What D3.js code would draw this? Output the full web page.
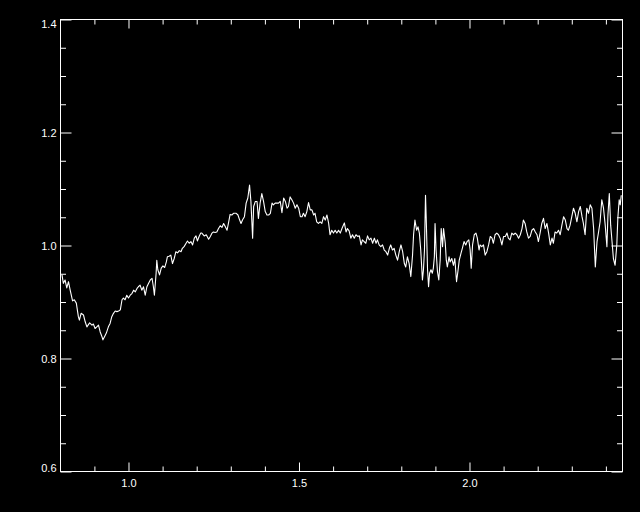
<!DOCTYPE html>
<html>
<head>
<meta charset="utf-8">
<script src="https://cdn.jsdelivr.net/npm/d3@7"></script>
<style>
  html, body { margin: 0; padding: 0; background: #000; }
  svg { display: block; }
</style>
</head>
<body>
<div id="chart"></div>
<script>
// wavelength (x) and normalised flux (y)
const wave = [
  0.805, 0.809, 0.814, 0.819, 0.824, 0.829, 0.836, 0.841, 0.847, 0.853,
  0.856, 0.861, 0.868, 0.873, 0.878, 0.886, 0.893, 0.897, 0.902, 0.907,
  0.912, 0.917, 0.922, 0.925, 0.930, 0.935, 0.941, 0.946, 0.951, 0.956,
  0.961, 0.966, 0.971, 0.976, 0.981, 0.985, 0.990, 0.995, 1.000, 1.005,
  1.010, 1.015, 1.020, 1.025, 1.029, 1.034, 1.039, 1.044, 1.049, 1.054,
  1.059, 1.064, 1.069, 1.073, 1.076, 1.081, 1.083, 1.086, 1.091, 1.096,
  1.101, 1.106, 1.111, 1.114, 1.119, 1.124, 1.129, 1.134, 1.139, 1.144,
  1.149, 1.154, 1.158, 1.163, 1.168, 1.173, 1.178, 1.183, 1.188, 1.193,
  1.198, 1.202, 1.207, 1.212,
  1.215, 1.222, 1.228, 1.235, 1.240, 1.245, 1.249, 1.254, 1.259, 1.264,
  1.269, 1.274, 1.279, 1.284, 1.289, 1.293, 1.298, 1.303, 1.308, 1.316,
  1.321, 1.326, 1.330, 1.335, 1.340, 1.345, 1.350, 1.355, 1.359, 1.364,
  1.367, 1.372, 1.377, 1.381, 1.386, 1.391, 1.396, 1.401, 1.406, 1.411,
  1.416, 1.421, 1.425, 1.430, 1.435, 1.440, 1.445, 1.450, 1.455, 1.460,
  1.465, 1.469, 1.474, 1.479, 1.484, 1.489, 1.494, 1.499, 1.504, 1.509,
  1.513, 1.518, 1.523, 1.528, 1.533, 1.538, 1.543, 1.547, 1.552, 1.557,
  1.562, 1.567, 1.572, 1.577, 1.582, 1.587, 1.591, 1.596, 1.601, 1.606,
  1.611, 1.616, 1.621,
  1.626, 1.633, 1.638, 1.642, 1.647, 1.652, 1.657, 1.662, 1.667, 1.672,
  1.677, 1.682, 1.686, 1.691, 1.696, 1.701, 1.706, 1.711, 1.716, 1.721,
  1.726, 1.730, 1.735, 1.740, 1.745, 1.750, 1.755, 1.760, 1.765, 1.769,
  1.774, 1.779, 1.784, 1.789, 1.794, 1.799, 1.804, 1.809, 1.813, 1.818,
  1.823, 1.828, 1.833, 1.836, 1.840, 1.845, 1.849, 1.853, 1.857, 1.862,
  1.865, 1.868, 1.871, 1.873, 1.877, 1.880, 1.883, 1.887, 1.891, 1.894,
  1.897, 1.899, 1.902, 1.906, 1.910, 1.914, 1.917, 1.921, 1.924, 1.929,
  1.932, 1.935, 1.940, 1.943, 1.948, 1.953, 1.957, 1.962, 1.966, 1.970,
  1.975, 1.979, 1.984, 1.989, 1.993, 1.998, 2.002, 2.005, 2.009, 2.014,
  2.019, 2.023, 2.028, 2.031, 2.036,
  2.041, 2.046, 2.051, 2.056, 2.061, 2.066, 2.070, 2.075, 2.080, 2.085,
  2.090, 2.095, 2.100, 2.105, 2.110, 2.114, 2.119, 2.124, 2.129, 2.134,
  2.139, 2.144, 2.149, 2.154, 2.158, 2.163, 2.168, 2.173, 2.178, 2.183,
  2.188, 2.193, 2.198, 2.202, 2.207, 2.212, 2.217, 2.222, 2.227, 2.232,
  2.237, 2.242, 2.246, 2.251, 2.256, 2.261, 2.266, 2.271, 2.276, 2.281,
  2.286, 2.290, 2.295, 2.300, 2.305, 2.310, 2.315, 2.320, 2.325, 2.330,
  2.334, 2.339, 2.344, 2.349, 2.354, 2.359, 2.364, 2.369, 2.374, 2.378,
  2.383, 2.388, 2.393, 2.398, 2.403, 2.406, 2.410, 2.414, 2.418, 2.422,
  2.427, 2.432, 2.435, 2.439, 2.442, 2.445
];

const flux = [
  0.948, 0.933, 0.939, 0.925, 0.936, 0.921, 0.902, 0.904, 0.898, 0.874,
  0.868, 0.880, 0.877, 0.865, 0.856, 0.863, 0.859, 0.861, 0.853, 0.856,
  0.859, 0.847, 0.839, 0.833, 0.839, 0.845, 0.856, 0.862, 0.874, 0.880,
  0.884, 0.883, 0.884, 0.886, 0.904, 0.907, 0.904, 0.912, 0.907, 0.912,
  0.915, 0.921, 0.918, 0.924, 0.927, 0.930, 0.921, 0.927, 0.912, 0.927,
  0.933, 0.939, 0.942, 0.927, 0.912, 0.951, 0.974, 0.957, 0.948, 0.960,
  0.964, 0.961, 0.971, 0.980, 0.981, 0.983, 0.968, 0.977, 0.989, 0.987,
  0.991, 0.989, 0.995, 0.998, 1.003, 1.008, 1.004, 1.007, 1.001, 1.013,
  1.017, 1.008, 1.016, 1.022,
  1.022, 1.017, 1.019, 1.011, 1.016, 1.022, 1.024, 1.023, 1.024, 1.030,
  1.035, 1.032, 1.039, 1.033, 1.027, 1.039, 1.055, 1.054, 1.057, 1.057,
  1.054, 1.045, 1.039, 1.046, 1.051, 1.075, 1.084, 1.107, 1.078, 1.013,
  1.069, 1.078, 1.078, 1.048, 1.075, 1.092, 1.078, 1.060, 1.054, 1.054,
  1.057, 1.075, 1.072, 1.075, 1.075, 1.075, 1.078, 1.058, 1.084, 1.078,
  1.066, 1.069, 1.086, 1.081, 1.075, 1.066, 1.072, 1.066, 1.051, 1.051,
  1.057, 1.051, 1.060, 1.076, 1.063, 1.063, 1.054, 1.057, 1.042, 1.039,
  1.042, 1.039, 1.051, 1.045, 1.054, 1.039, 1.019, 1.027, 1.022, 1.027,
  1.022, 1.027, 1.022,
  1.030, 1.040, 1.024, 1.030, 1.026, 1.013, 1.019, 1.013, 1.019, 1.016,
  1.017, 1.001, 1.010, 1.007, 1.004, 1.017, 1.010, 1.013, 1.004, 1.013,
  1.004, 1.010, 1.001, 0.998, 1.001, 0.992, 0.989, 0.983, 0.995, 1.001,
  0.992, 0.995, 0.983, 0.974, 0.989, 1.001, 0.989, 0.968, 0.962, 0.980,
  0.968, 0.945, 0.983, 1.019, 1.045, 1.027, 1.033, 1.022, 0.992, 0.939,
  0.957, 0.992, 1.089, 1.051, 0.957, 0.927, 0.951, 0.957, 0.951, 0.960,
  0.980, 1.039, 0.992, 0.954, 0.939, 0.974, 1.030, 0.998, 1.030, 1.004,
  0.974, 0.962, 0.980, 0.971, 0.977, 0.965, 0.977, 0.936, 0.954, 0.974,
  0.986, 0.995, 1.007, 1.001, 1.007, 1.010, 0.992, 0.960, 1.001, 1.019,
  1.022, 1.013, 0.992, 1.001, 0.998,
  1.001, 0.983, 0.989, 1.001, 1.016, 1.013, 1.004, 1.019, 1.022, 1.019,
  1.013, 1.001, 1.016, 1.016, 1.022, 1.013, 1.010, 1.022, 1.019, 1.022,
  1.019, 1.013, 1.019, 1.030, 1.045, 1.039, 1.024, 1.013, 1.016, 1.027,
  1.030, 1.024, 1.019, 1.007, 1.022, 1.039, 1.048, 1.030, 1.039, 1.022,
  1.001, 1.013, 1.004, 1.024, 1.022, 1.027, 1.019, 1.036, 1.051, 1.045,
  1.030, 1.027, 1.036, 1.051, 1.066, 1.057, 1.042, 1.060, 1.069, 1.051,
  1.039, 1.019, 1.066, 1.057, 1.072, 1.066, 1.030, 0.962, 1.007, 1.022,
  1.042, 1.081, 1.066, 1.036, 0.998, 1.054, 1.092, 1.036, 1.007, 0.977,
  0.965, 1.001, 1.048, 1.081, 1.072, 1.089
];

const xTicks = [1.0, 1.5, 2.0];
const yTicks = [0.6, 0.8, 1.0, 1.2, 1.4];
const xMinor = [0.9, 1.1, 1.2, 1.3, 1.4, 1.6, 1.7, 1.8, 1.9, 2.1, 2.2, 2.3, 2.4];
const yMinor = [0.65, 0.7, 0.75, 0.85, 0.9, 0.95, 1.05, 1.1, 1.15, 1.25, 1.3, 1.35];

const W = 640, H = 512;
const m = { left: 60.5, right: 622.5, top: 19.5, bottom: 471.5 };

const svg = d3.select("#chart")
  .append("svg")
  .attr("width", W)
  .attr("height", H)
  .style("background", "#000");

const x = d3.scaleLinear().domain([0.8006, 2.4487]).range([m.left, m.right]);
const y = d3.scaleLinear().domain([0.6, 1.4]).range([m.bottom, m.top]);

const data = wave.map((w, i) => ({ w: w, f: flux[i] }));

// ticks point inward, major and minor on all four sides
const tickStyle = (g) => {
  g.select(".domain").remove();
  g.selectAll("line").attr("stroke", "#fff").attr("stroke-width", 1);
  g.selectAll("text")
    .attr("fill", "#fff")
    .attr("font-family", "'Liberation Sans', Arial, sans-serif")
    .attr("font-size", 11);
};

svg.append("g")
  .attr("transform", `translate(0,${m.bottom})`)
  .call(d3.axisBottom(x).tickValues(xTicks).tickSize(-9).tickPadding(8).tickFormat(d3.format(".1f")))
  .call(tickStyle);
svg.append("g")
  .attr("transform", `translate(0,${m.bottom})`)
  .call(d3.axisBottom(x).tickValues(xMinor).tickSize(-5).tickFormat(""))
  .call(tickStyle);
svg.append("g")
  .attr("transform", `translate(0,${m.top})`)
  .call(d3.axisTop(x).tickValues(xTicks).tickSize(-9).tickFormat(""))
  .call(tickStyle);
svg.append("g")
  .attr("transform", `translate(0,${m.top})`)
  .call(d3.axisTop(x).tickValues(xMinor).tickSize(-5).tickFormat(""))
  .call(tickStyle);

const yAxis = svg.append("g")
  .attr("transform", `translate(${m.left},0)`)
  .call(d3.axisLeft(y).tickValues(yTicks).tickSize(-11).tickPadding(4).tickFormat(d3.format(".1f")))
  .call(tickStyle);
// end labels are pushed inside the frame
yAxis.selectAll("text")
  .attr("y", (d) => Math.max(m.top + 4, Math.min(m.bottom - 4, y(d))) - y(d));

svg.append("g")
  .attr("transform", `translate(${m.left},0)`)
  .call(d3.axisLeft(y).tickValues(yMinor).tickSize(-5.5).tickFormat(""))
  .call(tickStyle);
svg.append("g")
  .attr("transform", `translate(${m.right},0)`)
  .call(d3.axisRight(y).tickValues(yTicks).tickSize(-11).tickFormat(""))
  .call(tickStyle);
svg.append("g")
  .attr("transform", `translate(${m.right},0)`)
  .call(d3.axisRight(y).tickValues(yMinor).tickSize(-5.5).tickFormat(""))
  .call(tickStyle);

// frame
svg.append("rect")
  .attr("x", m.left)
  .attr("y", m.top)
  .attr("width", m.right - m.left)
  .attr("height", m.bottom - m.top)
  .attr("fill", "none")
  .attr("stroke", "#fff")
  .attr("stroke-width", 1);

// spectrum
const line = d3.line()
  .x((d) => x(d.w))
  .y((d) => y(d.f));

svg.append("path")
  .datum(data)
  .attr("d", line)
  .attr("fill", "none")
  .attr("stroke", "#fff")
  .attr("stroke-width", 1.1)
  .attr("stroke-linejoin", "round");
</script>
</body>
</html>
